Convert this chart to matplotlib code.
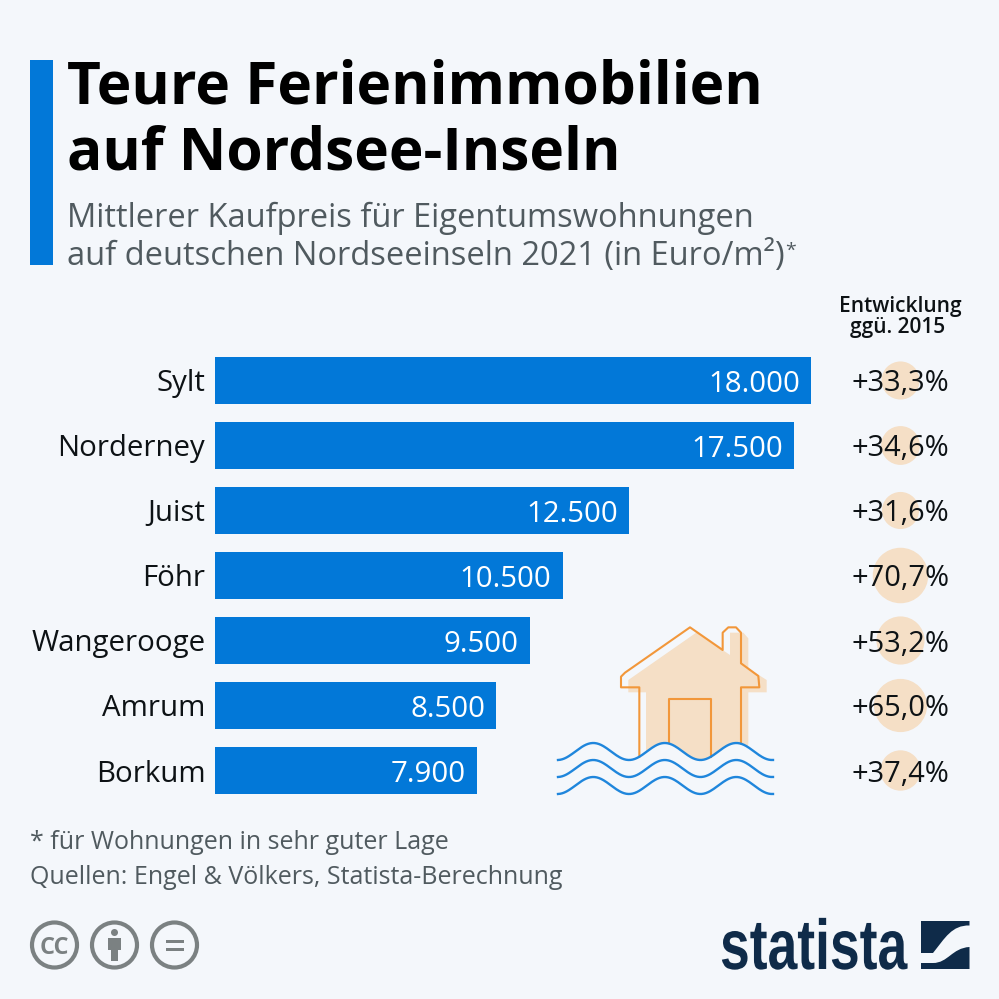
import matplotlib
matplotlib.use("Agg")
import matplotlib.pyplot as plt
import numpy as np
from matplotlib.patches import Circle, PathPatch, Polygon, Rectangle
from matplotlib.path import Path
from matplotlib.patheffects import AbstractPathEffect
from matplotlib.transforms import Affine2D

islands = ["Sylt", "Norderney", "Juist", "Föhr", "Wangerooge", "Amrum", "Borkum"]
prices = [18000, 17500, 12500, 10500, 9500, 8500, 7900]
changes = [33.3, 34.6, 31.6, 70.7, 53.2, 65.0, 37.4]

BG = "#f4f7fb"
BLUE = "#0278d8"
PEACH = "#f5dfc6"
ORANGE = "#f2973a"
WAVE = "#1f86dc"
GREY = "#7b8182"
NAVY = "#0f2b49"
TEXT = "#0d1215"
SUB = "#505a5f"

plt.rcParams["font.family"] = ["Open Sans", "DejaVu Sans"]


class StretchY(AbstractPathEffect):
    # makes the logo lettering taller around its baseline
    def __init__(self, base, factor):
        super().__init__()
        self.tf = Affine2D().translate(0, -base).scale(1, factor).translate(0, base)

    def draw_path(self, renderer, gc, tpath, affine, rgbFace=None):
        renderer.draw_path(gc, tpath, affine + self.tf, rgbFace)


fig = plt.figure(figsize=(9.99, 9.99), dpi=100, facecolor=BG)

# pixel canvas for everything around the chart
bg = fig.add_axes([0, 0, 1, 1], zorder=0)
bg.set_xlim(0, 999)
bg.set_ylim(999, 0)
bg.axis("off")

bg.add_patch(Rectangle((30, 60), 23, 205, color=BLUE, lw=0))
bg.text(67, 104, "Teure Ferienimmobilien", fontsize=42.2, fontweight="bold", color="black", va="baseline")
bg.text(67, 170, "auf Nordsee-Inseln", fontsize=42.2, fontweight="bold", color="black", va="baseline")
bg.text(67, 227, "Mittlerer Kaufpreis für Eigentumswohnungen", fontsize=23.5, color=SUB, va="baseline")
bg.text(67, 265, "auf deutschen Nordseeinseln 2021 (in Euro/m²)", fontsize=23.5, color=SUB, va="baseline")
bg.text(785, 256, "*", fontsize=14, color=SUB, va="baseline")

bg.text(900.5, 312, "Entwicklung", fontsize=15, fontweight="semibold", color=TEXT, ha="center", va="baseline")
bg.text(897.5, 333, "ggü. 2015", fontsize=15, fontweight="semibold", color=TEXT, ha="center", va="baseline")

bg.text(30, 849, "* für Wohnungen in sehr guter Lage", fontsize=18, color=SUB, va="baseline")
bg.text(30, 884, "Quellen: Engel & Völkers, Statista-Berechnung", fontsize=18, color=SUB, va="baseline")


def wave_y(x, centre):
    return centre + 8.5 * np.cos(2 * np.pi * (x - 629) / 71.5)


# house
px = lambda pts: [(540 + a / 3, 610 + b / 3) for a, b in pts]
fill_x = np.linspace(646, 748, 40)
fill_top = px([(625, 400), (625, 247), (680, 247), (680, 210), (625, 175), (625, 85), (610, 68), (570, 68),
               (570, 135), (470, 67), (265, 210), (265, 232), (265, 247), (318, 247), (318, 430)])
fill_pts = list(zip(fill_x, wave_y(fill_x, 751.5))) + fill_top
bg.add_patch(Polygon(fill_pts, closed=True, color=PEACH, lw=0, zorder=1))
outline = px([(298, 440), (298, 232), (243, 232), (243, 200), (255, 188), (450, 52), (548, 120), (548, 68),
              (565, 52), (588, 52), (603, 68), (603, 160), (655, 198), (658, 232), (603, 232), (603, 400)])
bg.plot(*zip(*outline), color=ORANGE, lw=1.5, zorder=2, solid_joinstyle="round")
door = px([(387, 400), (387, 268), (513, 268), (513, 440)])
bg.plot(*zip(*door), color=ORANGE, lw=1.5, zorder=2)
wave_x = np.linspace(558, 773, 200)
for c in [751.5, 768.5, 785.5]:
    bg.plot(wave_x, wave_y(wave_x, c), color=WAVE, lw=1.7, zorder=3)

# licence icons
for cx in [54.5, 114.5, 174.5]:
    bg.add_patch(Circle((cx, 945), 22.5, fc="none", ec=GREY, lw=3))
bg.text(54.5, 945, "CC", fontsize=17, fontweight="bold", color=GREY, ha="center", va="center_baseline")
bg.add_patch(Circle((114.5, 932.5), 3.5, color=GREY, lw=0))
bg.add_patch(Polygon([(107.5, 938), (120.5, 938), (120.5, 950), (117.5, 950), (117.5, 961),
                      (110.5, 961), (110.5, 950), (107.5, 950)], closed=True, color=GREY, lw=0))
bg.add_patch(Rectangle((166, 939.5), 18, 3.8, color=GREY, lw=0))
bg.add_patch(Rectangle((166, 947.5), 18, 3.8, color=GREY, lw=0))

# statista logo
bg.text(720, 969, "statista", fontsize=38.5, fontweight="bold", family=["Liberation Sans", "DejaVu Sans"],
        color=NAVY, va="baseline", path_effects=[StretchY(30, 1.32)])
top_piece = Path([(921, 921), (969.5, 921), (969.5, 925.5), (952, 925), (945, 938), (933, 953), (921, 953), (921, 921)],
                 [Path.MOVETO, Path.LINETO, Path.LINETO, Path.CURVE4, Path.CURVE4, Path.CURVE4, Path.LINETO, Path.CLOSEPOLY])
bottom_piece = Path([(969.5, 947), (952, 948), (948, 963), (933, 963), (921, 963), (921, 969), (969.5, 969), (969.5, 947)],
                    [Path.MOVETO, Path.CURVE4, Path.CURVE4, Path.CURVE4, Path.LINETO, Path.LINETO, Path.LINETO, Path.CLOSEPOLY])
bg.add_patch(PathPatch(top_piece, color=NAVY, lw=0))
bg.add_patch(PathPatch(bottom_piece, color=NAVY, lw=0))

# bars: 65 px per row, x scale runs 0-18000 over 596 px
ax = fig.add_axes([215 / 999, 1 - 803 / 999, 596 / 999, 455 / 999], zorder=1)
ax.patch.set_alpha(0)
y = np.arange(len(islands))
ax.barh(y, prices, height=47 / 65, color=BLUE)
ax.set_xlim(0, 18000)
ax.set_ylim(len(islands) - 0.5, -0.5)
ax.set_xticks([])
ax.set_yticks(y, islands, fontsize=21.2, color=TEXT)
ax.tick_params(axis="y", length=0, pad=7)
for lab in ax.get_yticklabels():
    lab.set_va("center_baseline")
for s in ax.spines.values():
    s.set_visible(False)

for i, v in enumerate(prices):
    ax.annotate(f"{v:,}".replace(",", "."), (v, i), xytext=(-8, -0.5), textcoords="offset points",
                ha="right", va="center_baseline", fontsize=21.2, color="white")

# change column, circle area follows the value
col_x = (900.5 - 215) / 596
sizes = [(2 * 3.3 * np.sqrt(c) * 0.72) ** 2 for c in changes]
ax.scatter([col_x] * len(changes), y, s=sizes, color=PEACH, lw=0, transform=ax.get_yaxis_transform(),
           clip_on=False, zorder=2)
for i, c in enumerate(changes):
    ax.text(col_x, i, f"+{c:.1f}%".replace(".", ","), transform=ax.get_yaxis_transform(), ha="center",
            va="center_baseline", fontsize=20.9, color=TEXT, zorder=3)

fig.savefig("out.png", dpi=100, facecolor=BG)
